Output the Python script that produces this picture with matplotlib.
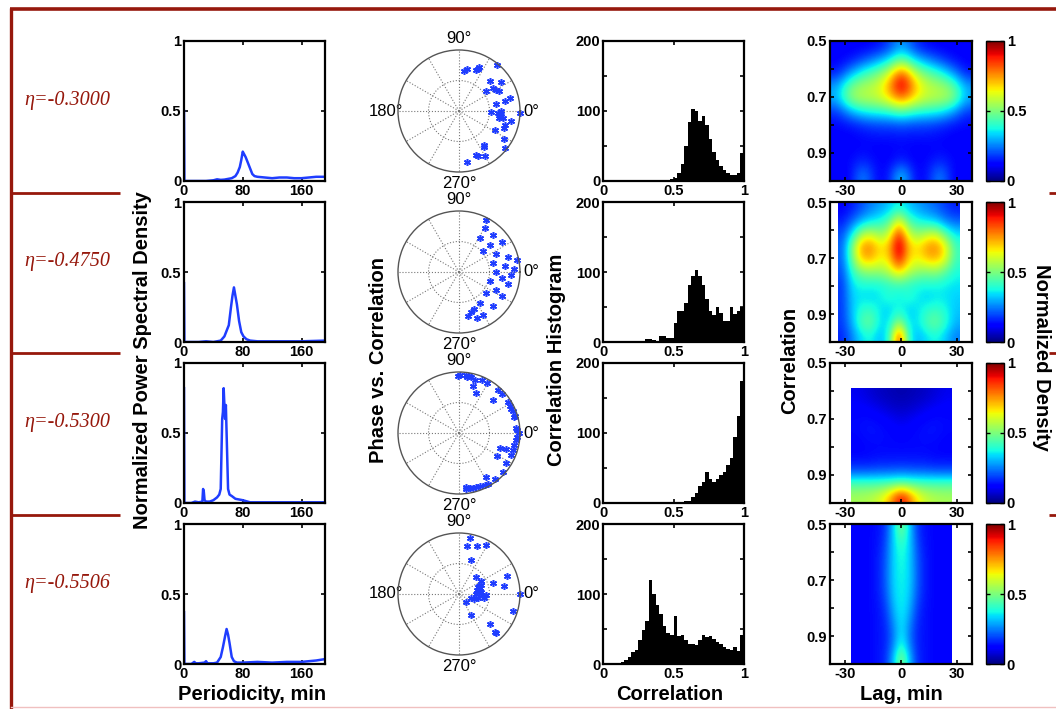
import numpy as np
import matplotlib
matplotlib.use("Agg")
import matplotlib.pyplot as plt

plt.rcParams["font.family"] = ["Liberation Sans", "DejaVu Sans"]
plt.rcParams["axes.unicode_minus"] = False

W, H = 1056, 709
DARK_RED = "#96180c"
BLUE = "#1f3dff"

# --- data ---
eta_labels = ["η=-0.3000", "η=-0.4750", "η=-0.5300", "η=-0.5506"]

# power spectra (periodicity in min, normalized power)
psd_x = [
    [0, 0.5, 10, 20, 30, 40, 45, 50, 55, 60, 65, 70, 73, 76, 78, 80, 82, 84, 87, 90, 93, 96, 100,
     110, 120, 130, 140, 150, 160, 170, 180, 192],
    [0, 0.5, 10, 20, 30, 40, 50, 55, 58, 61, 64, 66, 68, 70, 72, 75, 78, 81, 85, 90, 100, 120, 140,
     160, 180, 192],
    [0, 0.5, 10, 15, 20, 25, 26, 27, 28, 30, 35, 40, 45, 48, 50, 52, 53, 54, 55, 56, 57, 58, 59, 60,
     62, 65, 70, 80, 90, 100, 120, 140, 160, 180, 192],
    [0, 0.5, 10, 14, 16, 20, 28, 30, 32, 40, 45, 50, 53, 56, 58, 60, 62, 65, 68, 72, 80, 100, 120,
     140, 160, 170, 180, 192],
]
psd_y = [
    [0.5, 0.0, 0.0, 0.0, 0.0, 0.005, 0.012, 0.008, 0.01, 0.015, 0.02, 0.035, 0.06, 0.1, 0.15, 0.21,
     0.19, 0.17, 0.13, 0.09, 0.05, 0.035, 0.03, 0.025, 0.02, 0.025, 0.025, 0.02, 0.02, 0.025, 0.03, 0.03],
    [0.42, 0.0, 0.0, 0.0, 0.005, 0.0, 0.01, 0.04, 0.08, 0.12, 0.25, 0.33, 0.39, 0.33, 0.27, 0.15,
     0.07, 0.04, 0.02, 0.01, 0.005, 0.005, 0.005, 0.005, 0.008, 0.01],
    [0.82, 0.0, 0.0, 0.01, 0.005, 0.01, 0.1, 0.08, 0.02, 0.01, 0.01, 0.02, 0.04, 0.06, 0.1, 0.6,
     0.65, 0.82, 0.7, 0.6, 0.7, 0.5, 0.3, 0.1, 0.06, 0.05, 0.03, 0.02, 0.005, 0.005, 0.005, 0.005,
     0.005, 0.005, 0.005],
    [0.37, 0.0, 0.0, 0.015, 0.005, 0.005, 0.01, 0.02, 0.005, 0.005, 0.01, 0.05, 0.12, 0.2, 0.25,
     0.21, 0.15, 0.05, 0.02, 0.01, 0.01, 0.015, 0.01, 0.015, 0.015, 0.02, 0.025, 0.035],
]

# phase vs correlation: points as (corr*cos(phase), corr*sin(phase))
phase_pts = [
    [(0.128, 0.683), (0.083, 0.656), (0.306, 0.694), (0.333, 0.722), (0.278, 0.667), (0.628, 0.75),
     (0.5, 0.5), (0.694, 0.472), (0.556, 0.378), (0.611, 0.344), (0.656, 0.333), (0.444, 0.322),
     (0.761, 0.167), (0.833, 0.211), (0.611, 0.111), (0.517, -0.011), (0.639, -0.028),
     (0.667, -0.056), (0.694, -0.083), (0.65, -0.122), (0.722, -0.111), (0.683, 0.0),
     (0.85, -0.167), (1.0, -0.028), (0.583, -0.306), (0.739, -0.278), (0.75, -0.233),
     (0.733, -0.461), (0.761, -0.611), (0.406, -0.556), (0.417, -0.583), (0.278, -0.722),
     (0.306, -0.733), (0.428, -0.733), (0.139, -0.844)],
    [(0.45, 0.85), (0.42, 0.72), (0.55, 0.6), (0.35, 0.55), (0.5, 0.45), (0.7, 0.5), (0.4, 0.35),
     (0.6, 0.3), (0.8, 0.25), (0.55, 0.15), (0.75, 0.1), (0.9, 0.05), (0.6, 0.0), (0.85, -0.05),
     (0.7, -0.1), (0.5, -0.15), (0.8, -0.2), (0.6, -0.3), (0.45, -0.35), (0.7, -0.4), (0.35, -0.5),
     (0.55, -0.55), (0.25, -0.6), (0.4, -0.7), (0.15, -0.72), (0.3, -0.75), (0.2, -0.65), (0.95, 0.2)],
    [(-0.014, 0.938), (0.014, 0.948), (0.111, 0.948), (0.133, 0.921), (0.166, 0.938), (0.204, 0.91),
     (0.258, 0.867), (0.383, 0.872), (0.459, 0.818), (0.231, 0.774), (0.285, 0.649), (0.639, 0.704),
     (0.709, 0.639), (0.557, 0.541), (0.802, 0.503), (0.829, 0.448), (0.856, 0.394), (0.883, 0.356),
     (0.91, 0.285), (0.899, 0.258), (0.938, 0.084), (0.948, 0.041), (0.981, -0.003), (0.948, -0.068),
     (0.938, -0.122), (0.666, -0.242), (0.774, -0.269), (0.899, -0.204), (0.883, -0.285),
     (0.622, -0.383), (0.856, -0.367), (0.774, -0.492), (0.72, -0.639), (0.438, -0.72),
     (0.584, -0.747), (0.476, -0.829), (0.421, -0.856), (0.351, -0.872), (0.285, -0.883),
     (0.231, -0.894), (0.177, -0.899), (0.122, -0.91), (0.111, -0.883)],
    [(0.177, 0.92), (0.133, 0.782), (0.298, 0.782), (0.448, 0.809), (0.199, 0.55), (0.271, 0.285),
     (0.354, 0.213), (0.564, 0.185), (0.785, 0.296), (0.74, 0.13), (0.326, 0.13), (0.298, 0.064),
     (0.354, 0.036), (0.381, -0.019), (0.315, -0.058), (0.243, -0.075), (0.436, -0.019),
     (0.409, -0.058), (0.116, -0.13), (0.204, -0.058), (0.89, -0.279), (0.199, -0.34),
     (0.503, -0.489), (0.591, -0.627), (0.613, -0.644), (1.0, 0.0), (0.337, 0.091), (0.271, 0.008),
     (0.309, 0.108), (0.354, 0.146)],
]
# which rows show the 180° label (hidden behind the axis title in rows 2 and 3)
show_180 = [True, False, False, True]

# correlation histograms, 40 bins of width 0.025 on [0, 1]
hist_edges = np.linspace(0, 1, 41)
hist_counts = [
    [0] * 17 + [1, 2, 3, 5, 12, 25, 50, 85, 103, 100, 86, 93, 80, 60, 42, 30, 22, 16, 12, 9, 8, 12, 40],
    [0] * 12 + [5, 4, 3, 2, 8, 8, 6, 6, 27, 45, 45, 56, 82, 95, 103, 94, 82, 62, 45, 38, 50, 42, 30,
                30, 50, 40, 45, 50],
    [0] * 20 + [1, 0, 1, 3, 3, 8, 15, 25, 30, 45, 35, 30, 35, 40, 45, 55, 65, 95, 125, 175],
    [0] * 5 + [3, 6, 10, 17, 20, 35, 48, 62, 120, 100, 85, 72, 55, 45, 42, 68, 40, 42, 35, 29, 28, 27,
               35, 41, 38, 40, 36, 32, 28, 25, 22, 20, 25, 18, 42],
]

# normalized density maps (rows: correlation 0.5 -> 1.0, cols: lag)
heat_1 = [
    [0.12, 0.12, 0.12, 0.13, 0.18, 0.30, 0.18, 0.13, 0.12, 0.12, 0.12],
    [0.12, 0.14, 0.20, 0.27, 0.35, 0.50, 0.35, 0.27, 0.20, 0.14, 0.12],
    [0.15, 0.28, 0.40, 0.47, 0.58, 0.85, 0.58, 0.47, 0.40, 0.28, 0.15],
    [0.28, 0.48, 0.55, 0.58, 0.72, 1.00, 0.72, 0.58, 0.55, 0.48, 0.28],
    [0.30, 0.53, 0.57, 0.58, 0.66, 0.80, 0.66, 0.58, 0.57, 0.53, 0.30],
    [0.18, 0.30, 0.38, 0.40, 0.42, 0.48, 0.42, 0.40, 0.38, 0.30, 0.18],
    [0.13, 0.15, 0.18, 0.20, 0.20, 0.22, 0.20, 0.20, 0.18, 0.15, 0.13],
    [0.12, 0.12, 0.13, 0.14, 0.14, 0.14, 0.14, 0.14, 0.13, 0.12, 0.12],
    [0.12, 0.12, 0.13, 0.12, 0.12, 0.13, 0.12, 0.12, 0.13, 0.12, 0.12],
    [0.12, 0.13, 0.17, 0.13, 0.12, 0.17, 0.12, 0.13, 0.17, 0.13, 0.12],
    [0.11, 0.12, 0.28, 0.13, 0.13, 0.36, 0.13, 0.13, 0.28, 0.12, 0.11],
]
heat_2 = [
    [0.12, 0.15, 0.20, 0.25, 0.28, 0.32, 0.38, 0.32, 0.28, 0.25, 0.22, 0.18, 0.15],
    [0.15, 0.22, 0.30, 0.35, 0.38, 0.45, 0.65, 0.45, 0.38, 0.35, 0.32, 0.25, 0.22],
    [0.20, 0.35, 0.55, 0.60, 0.52, 0.60, 0.88, 0.60, 0.52, 0.58, 0.60, 0.45, 0.35],
    [0.22, 0.50, 0.76, 0.78, 0.66, 0.72, 1.00, 0.72, 0.66, 0.76, 0.78, 0.65, 0.42],
    [0.22, 0.48, 0.70, 0.72, 0.64, 0.68, 0.92, 0.68, 0.64, 0.70, 0.72, 0.62, 0.42],
    [0.20, 0.40, 0.50, 0.52, 0.52, 0.58, 0.68, 0.58, 0.52, 0.50, 0.52, 0.45, 0.38],
    [0.18, 0.35, 0.38, 0.38, 0.38, 0.40, 0.42, 0.40, 0.38, 0.38, 0.38, 0.36, 0.35],
    [0.18, 0.33, 0.35, 0.33, 0.36, 0.40, 0.36, 0.40, 0.36, 0.33, 0.35, 0.35, 0.33],
    [0.18, 0.32, 0.40, 0.42, 0.35, 0.33, 0.38, 0.33, 0.35, 0.40, 0.42, 0.38, 0.32],
    [0.18, 0.30, 0.45, 0.48, 0.35, 0.35, 0.55, 0.35, 0.35, 0.45, 0.48, 0.40, 0.30],
    [0.16, 0.25, 0.35, 0.38, 0.30, 0.40, 0.90, 0.40, 0.30, 0.35, 0.38, 0.32, 0.25],
]
heat_3 = [
    [0.10, 0.08, 0.06, 0.05, 0.04, 0.05, 0.06, 0.08, 0.10],
    [0.12, 0.11, 0.09, 0.07, 0.06, 0.07, 0.09, 0.11, 0.12],
    [0.13, 0.14, 0.13, 0.11, 0.09, 0.11, 0.13, 0.14, 0.13],
    [0.13, 0.14, 0.14, 0.13, 0.12, 0.13, 0.14, 0.14, 0.13],
    [0.12, 0.13, 0.13, 0.13, 0.13, 0.13, 0.13, 0.13, 0.12],
    [0.13, 0.13, 0.14, 0.14, 0.14, 0.14, 0.14, 0.13, 0.13],
    [0.20, 0.20, 0.21, 0.21, 0.22, 0.21, 0.21, 0.20, 0.20],
    [0.45, 0.45, 0.45, 0.46, 0.48, 0.46, 0.45, 0.45, 0.45],
    [0.55, 0.56, 0.60, 0.72, 0.95, 0.72, 0.60, 0.56, 0.55],
]
heat_4 = [
    [0.12, 0.12, 0.13, 0.14, 0.18, 0.34, 0.50, 0.34, 0.18, 0.14, 0.13, 0.12, 0.12],
    [0.12, 0.12, 0.13, 0.14, 0.20, 0.34, 0.42, 0.34, 0.20, 0.14, 0.13, 0.12, 0.12],
    [0.12, 0.12, 0.13, 0.15, 0.21, 0.34, 0.39, 0.34, 0.21, 0.15, 0.13, 0.12, 0.12],
    [0.12, 0.12, 0.13, 0.15, 0.22, 0.34, 0.38, 0.34, 0.22, 0.15, 0.13, 0.12, 0.12],
    [0.12, 0.12, 0.13, 0.15, 0.22, 0.34, 0.37, 0.34, 0.22, 0.15, 0.13, 0.12, 0.12],
    [0.12, 0.12, 0.13, 0.15, 0.21, 0.33, 0.37, 0.33, 0.21, 0.15, 0.13, 0.12, 0.12],
    [0.12, 0.12, 0.13, 0.14, 0.19, 0.31, 0.37, 0.31, 0.19, 0.14, 0.13, 0.12, 0.12],
    [0.12, 0.12, 0.13, 0.14, 0.17, 0.28, 0.36, 0.28, 0.17, 0.14, 0.13, 0.12, 0.12],
    [0.12, 0.12, 0.13, 0.14, 0.16, 0.25, 0.36, 0.25, 0.16, 0.14, 0.13, 0.12, 0.12],
    [0.12, 0.12, 0.13, 0.14, 0.16, 0.26, 0.40, 0.26, 0.16, 0.14, 0.13, 0.12, 0.12],
    [0.12, 0.12, 0.13, 0.14, 0.17, 0.32, 0.52, 0.32, 0.17, 0.14, 0.13, 0.12, 0.12],
]
heat_maps = [heat_1, heat_2, heat_3, heat_4]
# lag range and correlation range covered by each map
heat_extent = [(-37.5, 37.5, 1.0, 0.5), (-33.5, 31.5, 1.0, 0.5),
               (-27, 27, 1.0, 0.59), (-27, 27, 1.0, 0.5)]

# --- layout (pixels) ---
row_tops = [41, 202, 363, 524]
ROW_H = 140


def rect(left, top, width, height):
    return [left / W, 1 - (top + height) / H, width / W, height / H]


def box_style(ax):
    for s in ax.spines.values():
        s.set_linewidth(1.6)
    ax.tick_params(direction="in", length=3, width=1.2, top=True, right=True,
                   labelsize=10.5, pad=2)


def bold_ticks(ax, xt, xl, yt, yl):
    ax.set_xticks(xt)
    ax.set_xticklabels(xl, fontweight="bold")
    ax.set_yticks(yt)
    ax.set_yticklabels(yl, fontweight="bold")


fig = plt.figure(figsize=(W / 100, H / 100), dpi=100)

# frame lines
bg = fig.add_axes([0, 0, 1, 1], zorder=-5)
bg.set_xlim(0, W)
bg.set_ylim(H, 0)
bg.axis("off")
bg.plot([10, W], [9, 9], color=DARK_RED, lw=2.6, solid_capstyle="butt")
bg.plot([11, 11], [8, H], color=DARK_RED, lw=2.4, solid_capstyle="butt")
for y in [193, 353, 515]:
    bg.plot([11, 120], [y, y], color=DARK_RED, lw=2.0, solid_capstyle="butt")
    bg.plot([1049, W], [y, y], color=DARK_RED, lw=2.0, solid_capstyle="butt")
bg.plot([11, W], [707, 707], color="#f0c0c0", lw=1.0)

for i, top in enumerate(row_tops):
    fig.text(67 / W, 1 - (top + 64) / H, eta_labels[i], color=DARK_RED, ha="center",
             va="baseline", fontsize=14.5, style="italic", family=["Liberation Serif", "DejaVu Serif"])

    # power spectrum
    ax = fig.add_axes(rect(184, top, 141, ROW_H))
    ax.plot(psd_x[i], psd_y[i], color=BLUE, lw=1.8)
    ax.set_xlim(0, 192)
    ax.set_ylim(0, 1)
    box_style(ax)
    bold_ticks(ax, [0, 80, 160], ["0", "80", "160"], [0, 0.5, 1], ["0", "0.5", "1"])

    # phase vs correlation
    pax = fig.add_axes(rect(398, top + ROW_H / 2 - 61, 122, 122), projection="polar")
    xy = np.array(phase_pts[i])
    theta = np.arctan2(xy[:, 1], xy[:, 0])
    r = np.hypot(xy[:, 0], xy[:, 1])
    pax.plot(theta, r, linestyle="none", marker=(6, 2, 0), ms=5, mew=1.1, color=BLUE, clip_on=False)
    pax.set_rlim(0, 1)
    pax.set_rticks([0.5])
    pax.set_yticklabels([])
    left_lab = "180°" if show_180[i] else ""
    pax.set_thetagrids(np.arange(0, 360, 30),
                       ["0°", "", "", "90°", "", "", left_lab, "", "", "270°", "", ""], fontsize=12)
    pax.tick_params(pad=-2)
    pax.grid(True, linestyle=":", color="#777777", lw=0.8)
    pax.spines["polar"].set_color("#555555")
    pax.spines["polar"].set_linewidth(1.0)

    # correlation histogram
    hax = fig.add_axes(rect(603, top, 141, ROW_H))
    hax.stairs(hist_counts[i], hist_edges, fill=True, color="black")
    hax.set_xlim(0, 1)
    hax.set_ylim(0, 200)
    box_style(hax)
    bold_ticks(hax, [0, 0.5, 1], ["0", "0.5", "1"], [0, 50, 100, 150, 200],
               ["0", "", "100", "", "200"])

    # density map
    max_ = fig.add_axes(rect(830, top, 142, ROW_H))
    im = max_.imshow(heat_maps[i], cmap="jet", vmin=0, vmax=1, extent=heat_extent[i],
                     origin="upper", aspect="auto", interpolation="bicubic")
    max_.set_xlim(-38, 38)
    max_.set_ylim(1.0, 0.5)
    box_style(max_)
    bold_ticks(max_, [-30, 0, 30], ["-30", "0", "30"], [0.5, 0.6, 0.7, 0.8, 0.9, 1.0],
               ["0.5", "", "0.7", "", "0.9", ""])

    cax = fig.add_axes(rect(986, top, 18, ROW_H))
    cb = fig.colorbar(im, cax=cax, ticks=[0, 0.5, 1])
    cax.set_yticklabels(["0", "0.5", "1"], fontweight="bold")
    cax.tick_params(direction="in", length=3, width=1.0, left=True, right=True, labelsize=10.5, pad=2)
    cb.outline.set_linewidth(1.0)

# shared axis titles
lab = dict(fontsize=14.5, fontweight="bold", ha="center", va="center")
fig.text(142 / W, 1 - 360 / H, "Normalized Power Spectral Density", rotation=90, **lab)
fig.text(378 / W, 1 - 360 / H, "Phase vs. Correlation", rotation=90, **lab)
fig.text(557 / W, 1 - 360 / H, "Correlation Histogram", rotation=90, **lab)
fig.text(790 / W, 1 - 360 / H, "Correlation", rotation=90, **lab)
fig.text(1042 / W, 1 - 357 / H, "Normalized Density", rotation=270, **lab)
fig.text(252 / W, 1 - 694 / H, "Periodicity, min", **lab)
fig.text(670 / W, 1 - 694 / H, "Correlation", **lab)
fig.text(901 / W, 1 - 694 / H, "Lag, min", **lab)

fig.savefig("out.png", dpi=100)
